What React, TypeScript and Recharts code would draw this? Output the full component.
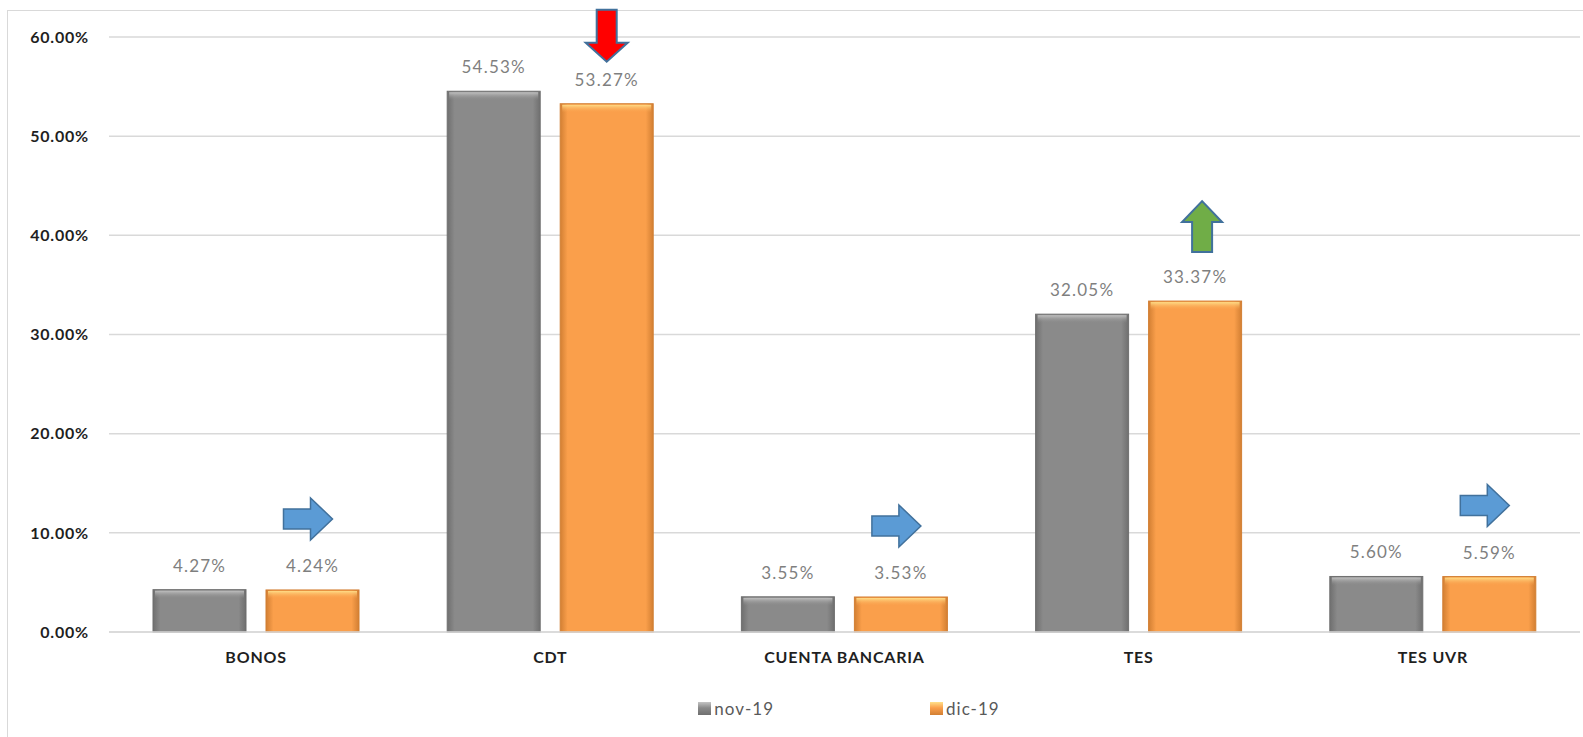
import React from "react";
import {
  BarChart,
  Bar,
  XAxis,
  YAxis,
  CartesianGrid,
  LabelList,
  Legend,
} from "recharts";

const CATEGORIES = ["BONOS", "CDT", "CUENTA BANCARIA", "TES", "TES UVR"];
const NOV_19 = [4.27, 54.53, 3.55, 32.05, 5.6];
const DIC_19 = [4.24, 53.27, 3.53, 33.37, 5.59];
// variation arrow drawn over the dic-19 bar
const TRENDS = ["flat", "down", "flat", "up", "flat"];
const Y_TICKS = [0, 10, 20, 30, 40, 50, 60];
const SERIES_NAMES = ["nov-19", "dic-19"];

const data = CATEGORIES.map((name, i) => ({
  name,
  nov: NOV_19[i],
  dic: DIC_19[i],
  trend: TRENDS[i],
}));

const FONT = "Lato, 'Open Sans', sans-serif";
const fmt = (v: number) => v.toFixed(2) + "%";

const TONES: Record<string, { edge: string; mid: string; top: string }> = {
  gray: { edge: "#6f6f6f", mid: "#8a8a8a", top: "#c4c4c4" },
  orange: { edge: "#d27f33", mid: "#fa9f4b", top: "#ffe08a" },
};

function BevelBar(props: any) {
  const { x, y, width, height, tone } = props;
  if (!height || height <= 0) return null;
  const t = TONES[tone];
  const bevel = Math.min(8, height / 2);
  return (
    <g>
      <rect x={x} y={y} width={width} height={height} fill={`url(#grad-${tone})`} />
      <rect x={x + 2} y={y + 1} width={width - 4} height={bevel} fill={`url(#bevel-${tone})`} />
      <rect x={x} y={y} width={width} height={height} fill="none" stroke={t.edge} strokeWidth={1} />
    </g>
  );
}

function ValueLabel(props: any) {
  const { x, y, width, value } = props;
  return (
    <text
      x={x + width / 2}
      y={y - 18}
      textAnchor="middle"
      fill="#7f7f7f"
      fontSize={17}
      fontFamily={FONT}
      letterSpacing={1.2}
    >
      {fmt(value)}
    </text>
  );
}

function TrendArrow(props: any) {
  const { x, y, width, value } = props;
  const cx = x + width / 2;
  const stroke = "#41719c";
  if (value === "down") {
    const tip = y - 42;
    const top = tip - 52;
    const pts = [
      [cx - 10, top],
      [cx + 10, top],
      [cx + 10, tip - 19],
      [cx + 21, tip - 19],
      [cx, tip],
      [cx - 21, tip - 19],
      [cx - 10, tip - 19],
    ];
    return <polygon points={pts.map((p) => p.join(",")).join(" ")} fill="#ff0000" stroke={stroke} strokeWidth={2} />;
  }
  if (value === "up") {
    const c = cx + 7;
    const bottom = y - 49;
    const tip = bottom - 51;
    const pts = [
      [c - 10, bottom],
      [c + 10, bottom],
      [c + 10, tip + 21],
      [c + 20, tip + 21],
      [c, tip],
      [c - 20, tip + 21],
      [c - 10, tip + 21],
    ];
    return <polygon points={pts.map((p) => p.join(",")).join(" ")} fill="#70ad47" stroke={stroke} strokeWidth={2} />;
  }
  const cy = y - 71;
  const left = cx - 29;
  const pts = [
    [left, cy - 10],
    [left + 27, cy - 10],
    [left + 27, cy - 21],
    [left + 49, cy],
    [left + 27, cy + 21],
    [left + 27, cy + 10],
    [left, cy + 10],
  ];
  return <polygon points={pts.map((p) => p.join(",")).join(" ")} fill="#5b9bd5" stroke={stroke} strokeWidth={1.5} />;
}

function LegendContent() {
  const items = [
    { name: SERIES_NAMES[0], tone: "gray" },
    { name: SERIES_NAMES[1], tone: "orange" },
  ];
  return (
    <div
      style={{
        display: "flex",
        justifyContent: "center",
        paddingLeft: 115,
        paddingTop: 16,
        fontFamily: FONT,
        fontSize: 17,
        color: "#595959",
        letterSpacing: 1,
      }}
    >
      {items.map((it, i) => (
        <div key={it.name} style={{ display: "flex", alignItems: "center", marginRight: i === 0 ? 156 : 0 }}>
          <span
            style={{
              display: "inline-block",
              width: 13,
              height: 13,
              marginRight: 3,
              background: `linear-gradient(180deg, ${TONES[it.tone].top}, ${TONES[it.tone].mid} 45%, ${TONES[it.tone].edge})`,
            }}
          />
          {it.name}
        </div>
      ))}
    </div>
  );
}

export default function App() {
  return (
    <div style={{ position: "relative", width: 1583, height: 737, background: "#fff" }}>
      <style>{"body{margin:0}"}</style>
      <div
        style={{
          position: "absolute",
          left: 7,
          top: 10,
          width: 1590,
          height: 740,
          border: "1px solid #d9d9d9",
          boxSizing: "border-box",
        }}
      />
      <BarChart
        width={1583}
        height={737}
        data={data}
        margin={{ top: 37, right: 3, bottom: 0, left: 0 }}
        barSize={93}
        barGap={20}
      >
        <defs>
          {Object.keys(TONES).map((k) => (
            <linearGradient key={k} id={`grad-${k}`} x1="0" y1="0" x2="1" y2="0">
              <stop offset="0%" stopColor={TONES[k].edge} />
              <stop offset="8%" stopColor={TONES[k].mid} />
              <stop offset="92%" stopColor={TONES[k].mid} />
              <stop offset="100%" stopColor={TONES[k].edge} />
            </linearGradient>
          ))}
          {Object.keys(TONES).map((k) => (
            <linearGradient key={"b" + k} id={`bevel-${k}`} x1="0" y1="0" x2="0" y2="1">
              <stop offset="0%" stopColor={TONES[k].top} stopOpacity={0.95} />
              <stop offset="100%" stopColor={TONES[k].mid} stopOpacity={0} />
            </linearGradient>
          ))}
        </defs>
        <CartesianGrid vertical={false} stroke="#d9d9d9" strokeWidth={1.5} />
        <XAxis
          dataKey="name"
          height={50}
          axisLine={{ stroke: "#d9d9d9", strokeWidth: 1.5 }}
          tickLine={false}
          tickSize={0}
          tickMargin={20}
          tick={{ fill: "#1f1f1f", fontSize: 16, fontWeight: 700, fontFamily: FONT, letterSpacing: 0.8 }}
          interval={0}
        />
        <YAxis
          width={109}
          domain={[0, 60]}
          ticks={Y_TICKS}
          tickFormatter={fmt}
          axisLine={false}
          tickLine={false}
          tickSize={0}
          tickMargin={20}
          tick={{ fill: "#1f1f1f", fontSize: 16, fontWeight: 700, fontFamily: FONT, letterSpacing: 0.8 }}
        />
        <Legend verticalAlign="bottom" height={55} content={<LegendContent />} wrapperStyle={{ left: 0, width: 1583 }} />
        <Bar
          dataKey="nov"
          name={SERIES_NAMES[0]}
          fill="#8a8a8a"
          isAnimationActive={false}
          shape={(p: any) => <BevelBar {...p} tone="gray" />}
        >
          <LabelList dataKey="nov" content={<ValueLabel />} />
        </Bar>
        <Bar
          dataKey="dic"
          name={SERIES_NAMES[1]}
          fill="#fa9f4b"
          isAnimationActive={false}
          shape={(p: any) => <BevelBar {...p} tone="orange" />}
        >
          <LabelList dataKey="dic" content={<ValueLabel />} />
          <LabelList dataKey="trend" content={<TrendArrow />} />
        </Bar>
      </BarChart>
    </div>
  );
}
